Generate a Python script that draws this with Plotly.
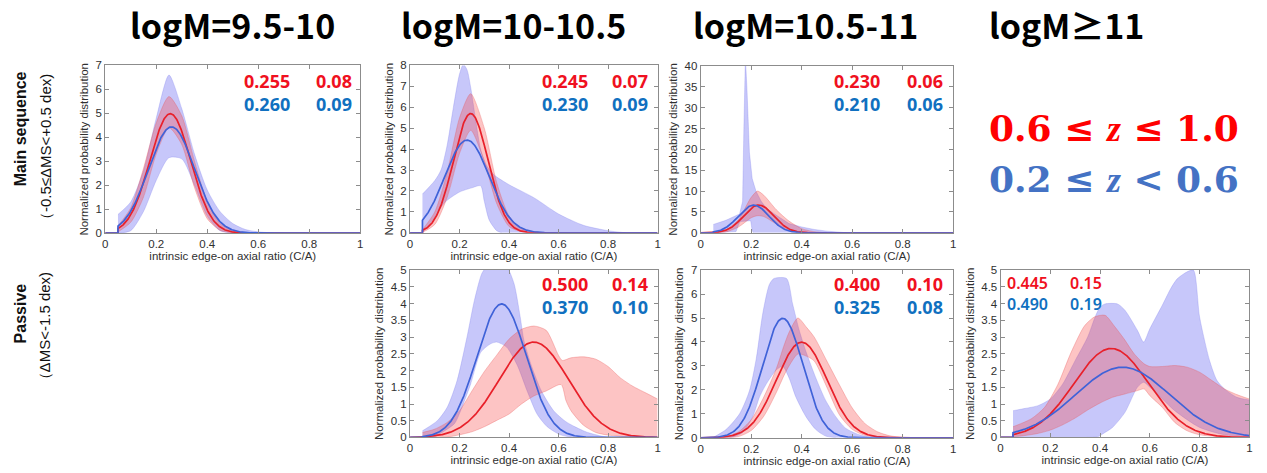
import numpy as np
import plotly.graph_objects as go

W, H = 1267, 473

# ---------------------------------------------------------------------------
# Gaussian fit parameters (mean, sigma) for each panel
# order: MS 9.5-10, MS 10-10.5, MS 10.5-11, Passive 10-10.5, Passive 10.5-11, Passive >=11
# "hi" = 0.6 <= z <= 1.0 (red), "lo" = 0.2 <= z < 0.6 (blue)
# ---------------------------------------------------------------------------
mu_hi = [0.255, 0.245, 0.230, 0.500, 0.400, 0.445]
sd_hi = [0.08, 0.07, 0.06, 0.14, 0.10, 0.15]
mu_lo = [0.260, 0.230, 0.210, 0.370, 0.325, 0.490]
sd_lo = [0.09, 0.09, 0.06, 0.10, 0.08, 0.19]

x_start = 0.05  # fits are defined from C/A = 0.05 upward

titles = ["logM=9.5-10", "logM=10-10.5", "logM=10.5-11", "logM≥11"]
x_ticks = [0, 0.2, 0.4, 0.6, 0.8, 1]

# ---------------------------------------------------------------------------
# uncertainty envelopes (upper / lower edges)
# ---------------------------------------------------------------------------
# MS 9.5-10
p1_blue_x = [0.05, 0.1, 0.15, 0.2, 0.25, 0.3, 0.35, 0.4, 0.45, 0.5, 0.55, 0.6, 0.65, 0.7]
p1_blue_up = [0.78, 1.3, 2.6, 4.8, 6.6, 5.2, 3.3, 1.8, 0.9, 0.4, 0.15, 0.05, 0.015, 0]
p1_blue_lo = [0, 0.1, 0.9, 2.2, 3.15, 3.1, 2.0, 0.7, 0.1, 0, 0, 0, 0, 0]
p1_red_x = [0.05, 0.1, 0.15, 0.2, 0.25, 0.3, 0.35, 0.4, 0.45, 0.5, 0.55, 0.6]
p1_red_up = [0.3, 1.05, 2.7, 4.6, 5.7, 4.9, 3.0, 1.3, 0.4, 0.1, 0.03, 0]
p1_red_lo = [0.05, 0.45, 1.5, 3.3, 4.4, 3.7, 1.9, 0.6, 0.12, 0.01, 0, 0]

# MS 10-10.5
p2_blue_up_x = [0.05, 0.1, 0.125, 0.15, 0.175, 0.2, 0.215, 0.23, 0.245, 0.265, 0.285,
                0.31, 0.34, 0.4, 0.5, 0.6, 0.7, 0.8, 0.87]
p2_blue_up = [1.85, 2.5, 3.0, 4.2, 6.0, 7.6, 8.05, 7.8, 6.95, 5.4, 4.0,
              3.2, 2.76, 2.3, 1.68, 0.9, 0.36, 0.1, 0]
p2_blue_lo_x = [0.05, 0.1, 0.14, 0.2, 0.25, 0.285, 0.3, 0.32, 0.35, 0.37]
p2_blue_lo = [0, 0.75, 1.45, 1.95, 2.15, 2.25, 1.5, 0.6, 0.1, 0]
p2_red_x = [0.05, 0.1, 0.15, 0.2, 0.245, 0.3, 0.35, 0.4, 0.45, 0.5, 0.55]
p2_red_up = [0.15, 1.0, 2.9, 5.5, 6.65, 5.0, 2.4, 0.8, 0.2, 0.05, 0]
p2_red_lo = [0.02, 0.4, 1.7, 3.8, 4.9, 3.4, 1.4, 0.3, 0.05, 0, 0]

# MS 10.5-11
p3_blue_up_x = [0.05, 0.1, 0.154, 0.166, 0.171, 0.177, 0.183, 0.187, 0.193, 0.204, 0.219,
                0.239, 0.259, 0.292, 0.35, 0.4, 0.45, 0.5, 0.55, 0.58]
p3_blue_up = [2.0, 3.0, 4.5, 7.5, 25, 42, 35, 27, 19.3, 13, 10,
              7.6, 6.0, 4.5, 2.2, 1.4, 0.8, 0.4, 0.15, 0]
p3_blue_lo_x = [0.05, 0.14, 0.152, 0.158, 0.198, 0.204, 0.21]
p3_blue_lo = [0, 0.3, 2.2, 2.7, 2.9, 0.5, 0]
p3_red_x = [0.05, 0.1, 0.15, 0.2, 0.225, 0.25, 0.3, 0.35, 0.4, 0.45, 0.5]
p3_red_up = [0.05, 0.7, 3.2, 8.5, 10.0, 9.0, 5.5, 2.8, 1.0, 0.25, 0.03]
p3_red_lo = [0, 0.2, 1.4, 3.6, 4.1, 3.9, 2.1, 0.6, 0.1, 0, 0]

# Passive 10-10.5
p5_blue_up_x = [0.05, 0.11, 0.15, 0.19, 0.23, 0.26, 0.29, 0.31, 0.35, 0.39, 0.42, 0.445,
                0.46, 0.49, 0.53, 0.58, 0.63, 0.71, 0.78, 0.82]
p5_blue_up = [0.2, 0.5, 0.9, 1.7, 3.0, 4.1, 4.9, 5.1, 5.2, 5.1, 4.6, 3.6,
              2.9, 2.15, 1.4, 0.8, 0.47, 0.17, 0.03, 0]
p5_blue_lo_x = [0.05, 0.1, 0.14, 0.18, 0.22, 0.245, 0.286, 0.326, 0.35, 0.39, 0.433,
                0.473, 0.513, 0.554, 0.607, 0.66]
p5_blue_lo = [0, 0.02, 0.2, 0.42, 1.1, 1.6, 2.55, 2.8, 2.85, 2.7, 2.16,
              1.39, 0.7, 0.32, 0.08, 0]
p5_red_up_x = [0.05, 0.1, 0.15, 0.2, 0.25, 0.3, 0.35, 0.4, 0.45, 0.5, 0.55, 0.6, 0.615,
               0.65, 0.7, 0.75, 0.8, 0.85, 0.9, 0.95, 1.0]
p5_red_up = [0.15, 0.25, 0.45, 0.8, 1.39, 1.97, 2.46, 2.94, 3.23, 3.33, 3.2, 2.45, 2.3,
             2.38, 2.41, 2.34, 2.12, 1.78, 1.53, 1.34, 1.15]
p5_red_lo_x = [0.05, 0.15, 0.2, 0.25, 0.3, 0.35, 0.4, 0.45, 0.5, 0.55, 0.61, 0.63, 0.65,
               0.7, 0.75, 0.8, 0.9, 1.0]
p5_red_lo = [0, 0.01, 0.08, 0.17, 0.32, 0.51, 0.7, 1.0, 1.24, 1.39, 1.58, 1.1, 0.8,
             0.37, 0.15, 0.07, 0.01, 0]

# Passive 10.5-11
p6_blue_up_x = [0.05, 0.1, 0.154, 0.193, 0.22, 0.246, 0.272, 0.29, 0.34, 0.364, 0.39,
                0.417, 0.456, 0.495, 0.535, 0.574, 0.627, 0.68]
p6_blue_up = [0.02, 0.34, 1.0, 1.96, 3.3, 5.2, 6.4, 6.65, 6.65, 5.6, 4.5,
              3.6, 2.5, 1.56, 0.88, 0.4, 0.13, 0]
p6_blue_lo_x = [0.05, 0.127, 0.167, 0.206, 0.233, 0.259, 0.285, 0.3, 0.325, 0.35, 0.377,
                0.417, 0.456, 0.495, 0.535]
p6_blue_lo = [0, 0.03, 0.23, 0.88, 1.7, 2.23, 2.64, 2.84, 2.98, 2.5, 1.7,
              0.88, 0.34, 0.07, 0]
p6_red_x = [0.05, 0.1, 0.15, 0.2, 0.25, 0.3, 0.33, 0.35, 0.385, 0.42, 0.45, 0.5, 0.55,
            0.6, 0.65, 0.7, 0.75, 0.8]
p6_red_up = [0, 0.05, 0.25, 0.75, 1.7, 2.9, 3.85, 4.4, 5.0, 4.6, 4.2, 3.2, 2.2,
             1.25, 0.6, 0.25, 0.08, 0.02]
p6_red_lo = [0, 0, 0.05, 0.3, 0.9, 1.9, 2.6, 3.0, 3.5, 3.4, 3.2, 2.1, 0.95,
             0.35, 0.1, 0.03, 0, 0]

# Passive >= 11
p7_blue_up_x = [0.05, 0.1, 0.15, 0.2, 0.25, 0.3, 0.35, 0.38, 0.4, 0.42, 0.47, 0.5, 0.55,
                0.575, 0.6, 0.65, 0.684, 0.71, 0.75, 0.775, 0.8, 0.84, 0.87, 0.9, 0.95, 1.0]
p7_blue_up = [0.8, 0.87, 0.95, 1.15, 1.6, 2.3, 3.0, 3.6, 3.9, 3.99, 3.99, 3.8, 3.2,
              2.85, 3.25, 3.95, 4.45, 4.74, 4.95, 5.0, 3.6, 2.3, 1.7, 1.45, 1.2, 1.12]
p7_blue_lo_x = [0.05, 0.35, 0.39, 0.42, 0.45, 0.5, 0.55, 0.575, 0.6, 0.65, 0.7, 0.8, 0.9, 1.0]
p7_blue_lo = [0, 0, 0.02, 0.15, 0.3, 0.75, 1.5, 1.65, 1.5, 1.15, 0.8, 0.3, 0.08, 0.02]
p7_red_up_x = [0.05, 0.124, 0.177, 0.23, 0.284, 0.337, 0.377, 0.42, 0.457, 0.497, 0.537,
               0.577, 0.6, 0.65, 0.7, 0.75, 0.8, 0.85, 0.9, 0.95, 1.0]
p7_red_up = [0.32, 0.56, 0.9, 1.58, 2.55, 3.33, 3.6, 3.65, 3.33, 2.94, 2.5,
             2.2, 2.12, 2.12, 2.15, 2.1, 1.95, 1.7, 1.45, 1.28, 1.15]
p7_red_lo_x = [0.05, 0.1, 0.15, 0.2, 0.25, 0.3, 0.35, 0.4, 0.45, 0.5, 0.55, 0.577, 0.6,
               0.65, 0.7, 0.75, 0.8, 0.9, 1.0]
p7_red_lo = [0.02, 0.06, 0.12, 0.22, 0.38, 0.58, 0.82, 1.03, 1.2, 1.3, 1.4, 1.45, 1.25,
             0.9, 0.45, 0.2, 0.08, 0.02, 0]

bands = [
    dict(blue=(p1_blue_x, p1_blue_up, p1_blue_x, p1_blue_lo),
         red=(p1_red_x, p1_red_up, p1_red_x, p1_red_lo)),
    dict(blue=(p2_blue_up_x, p2_blue_up, p2_blue_lo_x, p2_blue_lo),
         red=(p2_red_x, p2_red_up, p2_red_x, p2_red_lo)),
    dict(blue=(p3_blue_up_x, p3_blue_up, p3_blue_lo_x, p3_blue_lo),
         red=(p3_red_x, p3_red_up, p3_red_x, p3_red_lo)),
    dict(blue=(p5_blue_up_x, p5_blue_up, p5_blue_lo_x, p5_blue_lo),
         red=(p5_red_up_x, p5_red_up, p5_red_lo_x, p5_red_lo)),
    dict(blue=(p6_blue_up_x, p6_blue_up, p6_blue_lo_x, p6_blue_lo),
         red=(p6_red_x, p6_red_up, p6_red_x, p6_red_lo)),
    dict(blue=(p7_blue_up_x, p7_blue_up, p7_blue_lo_x, p7_blue_lo),
         red=(p7_red_up_x, p7_red_up, p7_red_lo_x, p7_red_lo)),
]

# ---------------------------------------------------------------------------
# layout geometry (pixels: left, right, top, bottom) and axis ranges
# ---------------------------------------------------------------------------
boxes = [
    (102.7, 359.0, 61.0, 233.0),
    (409.0, 657.7, 61.0, 232.7),
    (701.0, 954.7, 61.5, 232.7),
    (409.0, 657.7, 271.0, 442.7),
    (701.0, 954.7, 271.0, 443.0),
    (1002.3, 1252.3, 271.0, 442.7),
]
y_max = [7, 8, 40, 5, 7, 5]
y_step = [1, 1, 5, 0.5, 1, 0.5]
spiky = [False, False, True, False, False, False]

RED_LINE = "#e8202a"
BLUE_LINE = "#3f62d8"
RED_FILL = "rgba(250, 60, 60, 0.30)"
BLUE_FILL = "rgba(40, 40, 235, 0.26)"
RED_EDGE = "rgba(235, 90, 90, 0.55)"
BLUE_EDGE = "rgba(120, 120, 235, 0.45)"
AX_COLOR = "#8c8c8c"
SANS = "Liberation Sans, Arial, sans-serif"
TICK_FONT = dict(family=SANS, size=11.5, color="#303030")
TITLE_FONT = dict(family=SANS, size=11.5, color="#303030")
STAT_RED = "#f01020"
STAT_BLUE = "#1070c0"


def normal_pdf(x, mu, sd):
    return np.exp(-0.5 * ((x - mu) / sd) ** 2) / (sd * np.sqrt(2 * np.pi))


fig = go.Figure()
layout = dict(
    width=W, height=H,
    margin=dict(l=0, r=0, t=0, b=0),
    paper_bgcolor="white", plot_bgcolor="white",
    showlegend=False,
)
annotations = []

xs_fit = np.linspace(x_start, 1.0, 500)

for i, (l, r, t, b) in enumerate(boxes):
    n = "" if i == 0 else str(i + 1)
    xa, ya = "x" + n, "y" + n

    for key, fill, edge in (("blue", BLUE_FILL, BLUE_EDGE), ("red", RED_FILL, RED_EDGE)):
        ux, uy, lx, ly = bands[i][key]
        shp = "linear" if (spiky[i] and key == "blue") else "spline"
        fig.add_trace(go.Scatter(
            x=lx, y=ly, xaxis=xa, yaxis=ya, mode="lines",
            line=dict(color=edge, width=0.6, shape=shp, smoothing=0.7),
            hoverinfo="skip"))
        fig.add_trace(go.Scatter(
            x=ux, y=uy, xaxis=xa, yaxis=ya, mode="lines", fill="tonexty",
            fillcolor=fill,
            line=dict(color=edge, width=0.6, shape=shp, smoothing=0.7),
            hoverinfo="skip"))

    for mu, sd, col in ((mu_hi[i], sd_hi[i], RED_LINE), (mu_lo[i], sd_lo[i], BLUE_LINE)):
        lx = np.concatenate([[0.0, x_start], xs_fit])
        ly = np.concatenate([[0.0, 0.0], normal_pdf(xs_fit, mu, sd)])
        fig.add_trace(go.Scatter(
            x=lx, y=ly, xaxis=xa, yaxis=ya, mode="lines",
            line=dict(color=col, width=1.7), hoverinfo="skip"))

    common = dict(
        showline=True, linecolor=AX_COLOR, linewidth=1, mirror="ticks",
        ticks="inside", ticklen=4, tickcolor=AX_COLOR, tickwidth=1,
        showgrid=False, zeroline=False, tickfont=TICK_FONT,
    )
    layout["xaxis" + n] = dict(
        common, domain=[l / W, r / W], range=[0, 1], tickvals=x_ticks,
        anchor=ya,
        title=dict(text="intrinsic edge-on axial ratio (C/A)", standoff=2, font=TITLE_FONT),
    )
    layout["yaxis" + n] = dict(
        common, domain=[1 - b / H, 1 - t / H], range=[0, y_max[i]], dtick=y_step[i],
        tick0=0, anchor=xa,
        title=dict(text="Normalized probability distribution", standoff=4, font=TITLE_FONT),
    )

    # fit parameters printed in each panel: one two-line block per column
    mean_col = (f'<span style="color:{STAT_RED}">{mu_hi[i]:.3f}</span><br>'
                f'<span style="color:{STAT_BLUE}">{mu_lo[i]:.3f}</span>')
    sig_col = (f'<span style="color:{STAT_RED}">{sd_hi[i]:.2f}</span><br>'
               f'<span style="color:{STAT_BLUE}">{sd_lo[i]:.2f}</span>')
    if i == 5:
        for txt, xx in ((mean_col, 0.019), (sig_col, 0.271)):
            annotations.append(dict(
                text=txt, xref=xa + " domain", yref=ya + " domain", x=xx, y=0.858,
                xanchor="left", yanchor="middle", align="left", showarrow=False,
                font=dict(family="Noto Sans, sans-serif", size=16, weight=600)))
    else:
        yy = 0.841 if i < 3 else 0.849
        right_cols = {0: (0.731, 0.977), 1: (0.725, 0.969), 2: (0.717, 0.966),
                      3: (0.725, 0.969), 4: (0.717, 0.966)}[i]
        for txt, xx in ((mean_col, right_cols[0]), (sig_col, right_cols[1])):
            annotations.append(dict(
                text=txt, xref=xa + " domain", yref=ya + " domain", x=xx, y=yy,
                xanchor="right", yanchor="middle", align="right", showarrow=False,
                font=dict(family="Noto Sans, sans-serif", size=18, weight="bold")))

# column titles
for txt, cx in zip(titles, [230.5, 513.0, 806.0, 1069.0]):
    annotations.append(dict(
        text=txt, xref="paper", yref="paper", x=cx / W, y=1 - 19 / H,
        xanchor="center", yanchor="middle", showarrow=False,
        font=dict(family="Noto Sans CJK JP, Noto Sans, sans-serif", size=34, color="black",
                  weight="bold")))

# row labels
row_labels = [
    ("Main sequence", 17.5, 126, 16, "bold"),
    ("（-0.5≤ΔMS<+0.5 dex)", 42, 148, 15, "normal"),
    ("Passive", 17.5, 315, 16, "bold"),
    ("（ΔMS<-1.5 dex)", 42, 332, 15, "normal"),
]
for txt, px, py, fs, wt in row_labels:
    annotations.append(dict(
        text=txt, xref="paper", yref="paper", x=px / W, y=1 - py / H,
        xanchor="center", yanchor="middle", showarrow=False, textangle=-90,
        font=dict(family=SANS, size=fs, color="#111111", weight=wt)))

# redshift key
ZI = '<span style="font-family:Liberation Serif"><i>z</i></span>'
key_lines = [
    (f"<b>0.6 ≤ {ZI} ≤ 1.0</b>", 125.5, "#ff0000"),
    (f"<b>0.2 ≤ {ZI} &lt; 0.6</b>", 177.0, "#4472c4"),
]
for txt, py, col in key_lines:
    annotations.append(dict(
        text=txt, xref="paper", yref="paper", x=1116.5 / W, y=1 - py / H,
        xanchor="center", yanchor="middle", showarrow=False,
        font=dict(family="DejaVu Serif, Liberation Serif, serif", size=36, color=col)))

layout["annotations"] = annotations
fig.update_layout(**layout)
fig.write_html("out.html")
